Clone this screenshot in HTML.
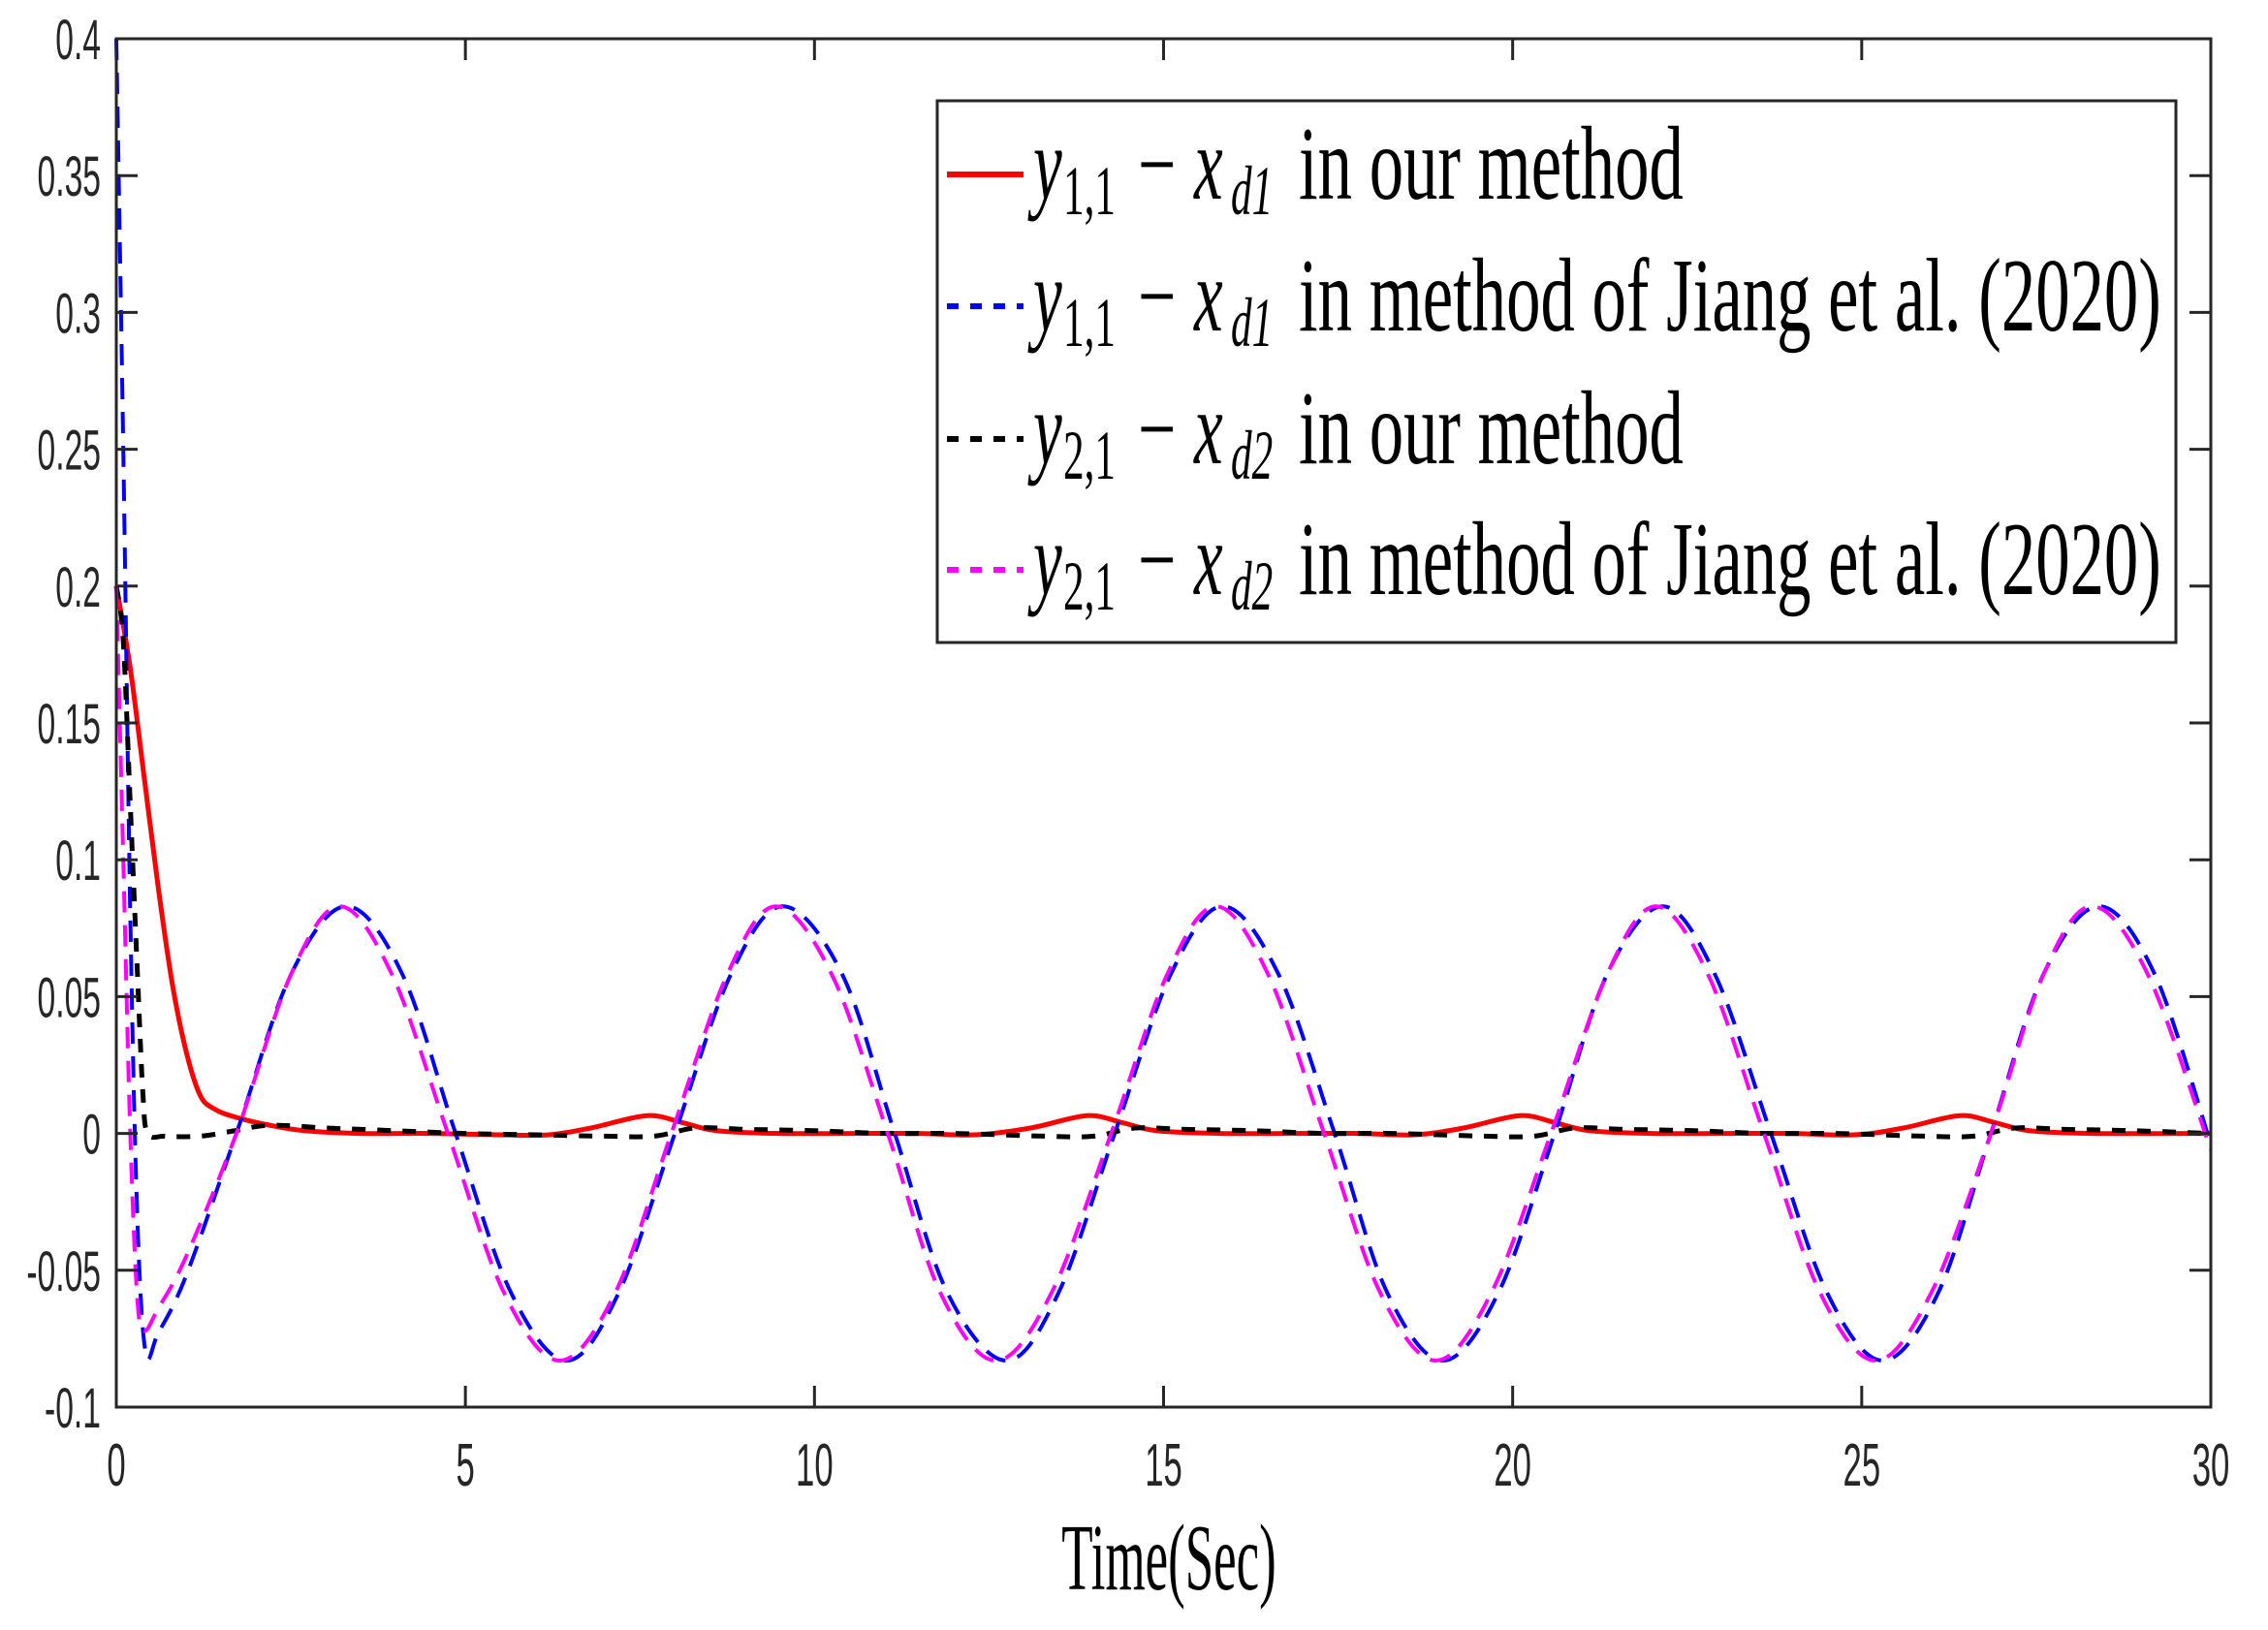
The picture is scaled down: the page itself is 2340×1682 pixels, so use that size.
<!DOCTYPE html>
<html><head><meta charset="utf-8"><style>
html,body{margin:0;padding:0;background:#fff;}
svg{display:block;}
</style></head><body>
<svg id="chart" xmlns="http://www.w3.org/2000/svg" width="2340" height="1682" viewBox="0 0 2340 1682">
<rect x="0" y="0" width="2340" height="1682" fill="#fff"/>
<g id="plot"></g>
<g id="axes"></g>
<g id="legend"></g>
</svg>
<script>
const xTicks = [0,5,10,15,20,25,30];
const xTickLabels = ["0","5","10","15","20","25","30"];
const yTicks = [-0.1,-0.05,0,0.05,0.1,0.15,0.2,0.25,0.3,0.35,0.4];
const yTickLabels = ["-0.1","-0.05","0","0.05","0.1","0.15","0.2","0.25","0.3","0.35","0.4"];

const redT = [0,0.2,0.4,0.6,0.8,1.0,1.2,1.4,1.7,2.2,2.7,3.5,4.5,5.5,6.2,6.8,7.6,8.1,8.6,9.5,10.5,11.5,12.3,13.1,13.9,14.4,14.9,15.8,16.8,17.8,18.6,19.3,20.1,20.6,21.1,22,23,24,24.9,25.6,26.4,26.9,27.4,28.3,30];
const redV = [0.2,0.17,0.13,0.09,0.055,0.03,0.014,0.009,0.006,0.003,0.001,0,0,-0.0005,-0.0005,0.002,0.0065,0.004,0.001,0,0,0,-0.0005,0.002,0.0065,0.004,0.001,0,0,0,-0.0005,0.002,0.0065,0.004,0.001,0,0,0,-0.0005,0.002,0.0065,0.004,0.001,0,0];

const blueT = [0,0.1,0.2,0.3,0.42,0.6,1.0,1.72,2.5,3.3,4.1,4.86,5.65,6.45,7.2,8.0,8.8,9.55,10.4,11.15,11.9,12.75,13.5,14.3,15.1,15.85,16.65,17.45,18.2,19.0,19.8,20.6,21.35,22.15,22.9,23.7,24.5,25.3,26.1,26.85,27.6,28.4,29.2,30];
const blueV = [0.4,0.25,0.08,-0.03,-0.08,-0.073,-0.052,0,0.058,0.083,0.058,0,-0.058,-0.083,-0.058,0,0.058,0.083,0.058,0,-0.058,-0.083,-0.058,0,0.058,0.083,0.058,0,-0.058,-0.083,-0.058,0,0.058,0.083,0.058,0,-0.058,-0.083,-0.058,0,0.058,0.083,0.058,-0.004];

const blackT = [0,0.1,0.2,0.3,0.38,0.45,0.7,1.2,1.7,2.2,3,4,5,6,7,7.7,8.3,9,10,11,12,13.3,14,14.6,15.3,16.3,17.3,18.3,19.6,20.3,20.9,21.6,22.6,23.6,24.6,25.9,26.6,27.2,27.9,28.9,30];
const blackV = [0.2,0.18,0.12,0.06,0.015,0,-0.001,-0.001,0.001,0.003,0.002,0.001,0,-0.0005,-0.001,-0.001,0.002,0.0015,0.001,0,0,-0.001,-0.001,0.002,0.0015,0.001,0,0,-0.001,-0.001,0.002,0.0015,0.001,0,0,-0.001,-0.001,0.002,0.0015,0.001,0];

const magT = [0,0.1,0.2,0.3,0.4,0.6,1.0,1.72,2.5,3.2,3.95,4.75,5.55,6.35,7.15,7.95,8.75,9.45,10.25,11.05,11.8,12.6,13.4,14.25,15.05,15.75,16.5,17.3,18.1,18.9,19.7,20.55,21.35,22.05,22.8,23.6,24.4,25.2,26.0,26.85,27.6,28.3,29.1,30];
const magV = [0.2,0.1,0.0,-0.06,-0.072,-0.064,-0.045,0,0.058,0.083,0.058,0,-0.058,-0.083,-0.058,0,0.058,0.083,0.058,0,-0.058,-0.083,-0.058,0,0.058,0.083,0.058,0,-0.058,-0.083,-0.058,0,0.058,0.083,0.058,0,-0.058,-0.083,-0.058,0,0.058,0.083,0.058,-0.006];

const L=120,R=2281,T=40,B=1452;
const X0=0,X1=30,Y0=-0.1,Y1=0.4;
const NS="http://www.w3.org/2000/svg";
function sx(v){return L+(v-X0)/(X1-X0)*(R-L);}
function sy(v){return B-(v-Y0)/(Y1-Y0)*(B-T);}
function mk(tag,attrs,parent){const e=document.createElementNS(NS,tag);for(const k in attrs)e.setAttribute(k,attrs[k]);parent.appendChild(e);return e;}

function pathD(ts,vs){
  const p=ts.map((t,i)=>[sx(t),sy(vs[i])]);
  let d="M"+p[0][0].toFixed(2)+","+p[0][1].toFixed(2);
  for(let i=0;i<p.length-1;i++){
    const p0=p[Math.max(0,i-1)],p1=p[i],p2=p[i+1],p3=p[Math.min(p.length-1,i+2)];
    const c1=[p1[0]+(p2[0]-p0[0])/6,p1[1]+(p2[1]-p0[1])/6];
    const c2=[p2[0]-(p3[0]-p1[0])/6,p2[1]-(p3[1]-p1[1])/6];
    d+=" C"+c1[0].toFixed(2)+","+c1[1].toFixed(2)+" "+c2[0].toFixed(2)+","+c2[1].toFixed(2)+" "+p2[0].toFixed(2)+","+p2[1].toFixed(2);
  }
  return d;
}
const plot=document.getElementById('plot');
const axes=document.getElementById('axes');
const legend=document.getElementById('legend');

let e;
e=mk('path',{d:pathD(redT,redV),fill:'none',stroke:'#ff0000','stroke-width':5},plot);


e=mk('path',{d:pathD(blueT,blueV),fill:'none',stroke:'#0000ff','stroke-width':4,'stroke-dasharray':'22 13'},plot);


e=mk('path',{d:pathD(blackT,blackV),fill:'none',stroke:'#000','stroke-width':5,'stroke-dasharray':'14 12'},plot);


e=mk('path',{d:pathD(magT,magV),fill:'none',stroke:'#ff00ff','stroke-width':4,'stroke-dasharray':'22 13'},plot);



// axes box
e=mk('rect',{x:L,y:T,width:R-L,height:B-T,fill:'none',stroke:'#262626','stroke-width':3},axes);


xTicks.forEach((v,i)=>{
  const x=sx(v);
  mk('line',{x1:x,y1:B,x2:x,y2:B-22,stroke:'#262626','stroke-width':3},axes);
  mk('line',{x1:x,y1:T,x2:x,y2:T+22,stroke:'#262626','stroke-width':3},axes);
  const g=mk('g',{transform:'translate('+x+',1533) scale(0.56,1)'},axes);
  const t=mk('text',{x:0,y:0,'text-anchor':'middle','font-family':'Liberation Sans, sans-serif','font-size':62,fill:'#262626'},g);
  t.textContent=xTickLabels[i];
  
  
});
yTicks.forEach((v,i)=>{
  const y=sy(v);
  mk('line',{x1:L,y1:y,x2:L+22,y2:y,stroke:'#262626','stroke-width':3},axes);
  mk('line',{x1:R,y1:y,x2:R-22,y2:y,stroke:'#262626','stroke-width':3},axes);
  const g=mk('g',{transform:'translate(104,'+(y+21)+') scale(0.58,1)'},axes);
  const t=mk('text',{x:0,y:0,'text-anchor':'end','font-family':'Liberation Sans, sans-serif','font-size':58,fill:'#262626'},g);
  t.textContent=yTickLabels[i];
  
  
});
{
  const g=mk('g',{transform:'translate(1206,1640) scale(0.54,1)'},axes);
  const t=mk('text',{x:0,y:0,'text-anchor':'middle','font-family':'Liberation Serif, serif','font-size':98,fill:'#000'},g);
  t.textContent='Time(Sec)';
  
  
}

// legend
e=mk('rect',{x:967,y:104,width:1278,height:559,fill:'#fff',stroke:'#262626','stroke-width':3},legend);


const rows=[
 {b:205,col:'#ff0000',dash:null,w:6,s1:'1,1',s2:'d1',txt:'in our method',name:'legend-entry-red'},
 {b:341,col:'#0000ff',dash:'12 12',w:6,s1:'1,1',s2:'d1',txt:'in method of Jiang et al. (2020)',name:'legend-entry-blue'},
 {b:478,col:'#000000',dash:'12 12',w:6,s1:'2,1',s2:'d2',txt:'in our method',name:'legend-entry-black'},
 {b:613,col:'#ff00ff',dash:'12 12',w:6,s1:'2,1',s2:'d2',txt:'in method of Jiang et al. (2020)',name:'legend-entry-magenta'}
];
function piece(parent,x,y,str,size,italic,scx){
  const g=mk('g',{transform:'translate('+x+','+y+') scale('+scx+',1)'},parent);
  const t=mk('text',{x:0,y:0,'font-family':'Liberation Serif, serif','font-size':size,fill:'#000','font-style':italic?'italic':'normal'},g);
  t.textContent=str;
  return t;
}
rows.forEach(r=>{
  const g=mk('g',{},legend);
  
  
  const ly=r.b-25;
  const ln=mk('line',{x1:977,y1:ly,x2:1056,y2:ly,stroke:r.col,'stroke-width':r.w},g);
  if(r.dash) ln.setAttribute('stroke-dasharray',r.dash);
  piece(g,1066,r.b,'y',108,true,0.62);
  piece(g,1097,r.b+16,r.s1,72,false,0.6);
  piece(g,1174,r.b-2,'\u2212',100,false,0.7);
  piece(g,1232,r.b,'x',108,true,0.62);
  piece(g,1270,r.b+16,r.s2,72,true,0.6);
  piece(g,1340,r.b,r.txt,108,false,0.655);
});
</script>
</body></html>
